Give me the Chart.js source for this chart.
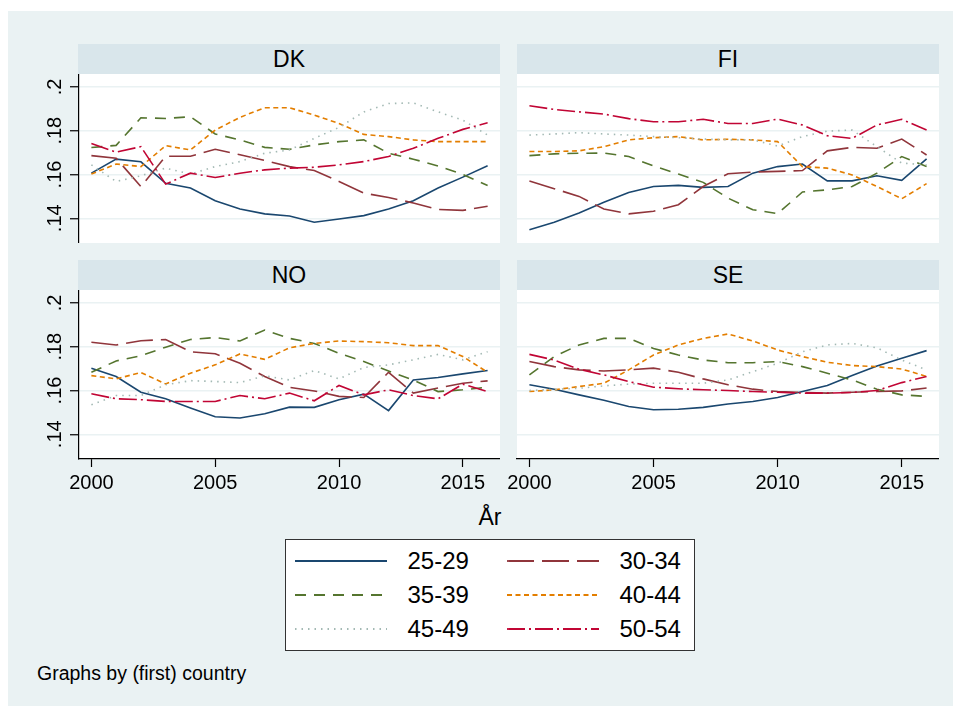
<!DOCTYPE html>
<html>
<head>
<meta charset="utf-8">
<title>Andel per åldersgrupp</title>
<script src="https://cdn.jsdelivr.net/npm/chart.js@4.4.1/dist/chart.umd.min.js"></script>
<style>
  body { margin: 0; background: #fff; font-family: "Liberation Sans", Arial, sans-serif; color: #000; }
  #frame { position: absolute; left: 8px; top: 11px; width: 945px; height: 695px; background: #eaf2f3; }
  .abs { position: absolute; }
  .strip { position: absolute; height: 30px; line-height: 30px; background: #d9e6eb; text-align: center; font-size: 23px; }
  #legend { position: absolute; left: 285px; top: 539px; width: 410px; height: 112px; background: #fff; border: 1.5px solid #333; box-sizing: border-box; }
  .ltext { position: absolute; font-size: 24px; height: 34px; line-height: 34px; white-space: nowrap; }
  canvas { position: absolute; }
</style>
</head>
<body>
<div id="frame"></div>

<div class="strip" style="left:78px; top:44px; width:422px;">DK</div>
<div class="strip" style="left:517px; top:44px; width:422px;">FI</div>
<div class="strip" style="left:78px; top:260px; width:422px;">NO</div>
<div class="strip" style="left:517px; top:260px; width:422px;">SE</div>

<canvas id="dk" width="470" height="169" style="left:30px; top:74px;"></canvas>
<canvas id="fi" width="439" height="169" style="left:500px; top:74px;"></canvas>
<canvas id="no" width="470" height="209" style="left:30px; top:290px;"></canvas>
<canvas id="se" width="439" height="209" style="left:500px; top:290px;"></canvas>

<div class="abs" style="left:440px; top:505px; width:100px; height:24px; line-height:24px; text-align:center; font-size:23px;">År</div>

<div id="legend"></div>

<div class="abs" style="left:37px; top:661px; height:24px; line-height:24px; font-size:19.5px; white-space:nowrap;">Graphs by (first) country</div>

<script>
// =========================
// DATA
// =========================
const years = [2000, 2001, 2002, 2003, 2004, 2005, 2006, 2007, 2008, 2009, 2010, 2011, 2012, 2013, 2014, 2015, 2016];
const groups = ["25-29", "30-34", "35-39", "40-44", "45-49", "50-54"];
const xTicks = [2000, 2005, 2010, 2015];
const yTicks = [0.14, 0.16, 0.18, 0.2];

// DK
const dk25 = [.1606, .1670, .1658, .1560, .1538, .1480, .1442, .1420, .1410, .1382, .1397, .1412, .1442, .1480, .1538, .1588, .1640];
const dk30 = [.1686, .1674, .1545, .1683, .1683, .1715, .1690, .1664, .1636, .1618, .1568, .1515, .1495, .1470, .1440, .1436, .1455];
const dk35 = [.1723, .1733, .1859, .1856, .1864, .1785, .1758, .1724, .1715, .1735, .1750, .1758, .1697, .1670, .1639, .1600, .1550];
const dk40 = [.1602, .1648, .1636, .1732, .1712, .1803, .1861, .1905, .1905, .1871, .1833, .1783, .1773, .1758, .1750, .1750, .1750];
const dk45 = [.1644, .1568, .1594, .1629, .1602, .1636, .1659, .1697, .1712, .1765, .1815, .1886, .1924, .1927, .1886, .1848, .1780];
const dk50 = [.1742, .1702, .1727, .1556, .1606, .1586, .1606, .1621, .1629, .1633, .1644, .1659, .1682, .1720, .1765, .1806, .1836];

// FI
const fi25 = [.1348, .1382, .1424, .1473, .1518, .1545, .1550, .1541, .1545, .1606, .1636, .1648, .1571, .1571, .1594, .1573, .1671];
const fi30 = [.1570, .1535, .1500, .1442, .1420, .1432, .1462, .1545, .1603, .1611, .1614, .1618, .1708, .1724, .1720, .1762, .1689];
const fi35 = [.1686, .1694, .1697, .1698, .1682, .1639, .1602, .1564, .1492, .1439, .1421, .1520, .1530, .1545, .1606, .1682, .1636];
const fi40 = [.1705, .1705, .1708, .1727, .1758, .1768, .1773, .1758, .1761, .1758, .1750, .1636, .1629, .1598, .1545, .1489, .1558];
const fi45 = [.1780, .1785, .1791, .1785, .1780, .1773, .1768, .1762, .1758, .1758, .1730, .1773, .1798, .1803, .1727, .1652, .1644];
const fi50 = [.1914, .1897, .1886, .1876, .1855, .1841, .1841, .1852, .1833, .1833, .1853, .1826, .1777, .1765, .1826, .1852, .1803];

// NO
const no25 = [.1702, .1664, .1592, .1562, .1520, .1480, .1474, .1494, .1524, .1523, .1558, .1583, .1508, .1648, .1659, .1676, .1691];
const no30 = [.1820, .1808, .1827, .1833, .1777, .1768, .1724, .1664, .1614, .1598, .1573, .1568, .1683, .1588, .1611, .1633, .1644];
const no35 = [.1683, .1735, .1759, .1798, .1833, .1842, .1826, .1876, .1838, .1815, .1770, .1732, .1689, .1648, .1595, .1603, .1615];
const no40 = [.1668, .1653, .1682, .1630, .1679, .1717, .1767, .1742, .1795, .1815, .1826, .1823, .1818, .1805, .1805, .1755, .1683];
const no45 = [.1535, .1577, .1577, .1626, .1645, .1641, .1636, .1667, .1648, .1691, .1653, .1705, .1717, .1740, .1765, .1740, .1777];
const no50 = [.1585, .1562, .1558, .1550, .1550, .1550, .1577, .1562, .1588, .1553, .1623, .1580, .1603, .1577, .1562, .1629, .1595];

// SE
const se25 = [.1626, .1606, .1580, .1555, .1527, .1512, .1514, .1523, .1538, .1550, .1568, .1595, .1623, .1668, .1712, .1747, .1782];
const se30 = [.1732, .1709, .1694, .1689, .1694, .1702, .1683, .1653, .1626, .1606, .1595, .1591, .1588, .1592, .1595, .1598, .1611];
const se35 = [.1671, .1755, .1808, .1838, .1838, .1792, .1762, .1739, .1727, .1727, .1732, .1709, .1679, .1648, .1606, .1580, .1573];
const se40 = [.1595, .1603, .1618, .1633, .1694, .1762, .1808, .1838, .1858, .1826, .1785, .1755, .1729, .1714, .1709, .1698, .1664];
const se45 = [.1600, .1605, .1610, .1621, .1629, .1633, .1633, .1633, .1648, .1686, .1724, .1777, .1808, .1815, .1795, .1739, .1694];
const se50 = [.1765, .1739, .1697, .1671, .1641, .1615, .1608, .1603, .1600, .1595, .1592, .1588, .1588, .1591, .1600, .1636, .1664];


// =========================
// STYLE (stata s2color look)
// =========================
const colors = ["#1a476f", "#90353b", "#55752f", "#e37e00", "#a3b9b4", "#c10534"];
const dashes = [[], [27, 8], [11, 8], [5, 3.5], [1.5, 5], [18, 4, 2, 4]];
const FONT = '"Liberation Sans", Arial, sans-serif';
Chart.defaults.font.family = FONT;

// white plot region behind the lines
const whiteArea = {
  id: "whiteArea",
  beforeDraw(chart) {
    const a = chart.chartArea;
    const c = chart.ctx;
    c.save();
    c.fillStyle = "#fff";
    c.fillRect(a.left, a.top, a.right - a.left, a.bottom - a.top);
    c.restore();
  }
};


// =========================
// BUILD ONE PANEL
// =========================
function makePanel(id, series, showY, showX) {
  const ctx = document.getElementById(id);

  const datasets = series.map((vals, i) => ({
    label: groups[i],
    data: years.map((yr, j) => ({ x: yr, y: vals[j] })),
    borderColor: colors[i],
    borderDash: dashes[i],
    borderWidth: 1.6,
    borderCapStyle: "butt",
    pointRadius: 0,
    tension: 0,
    fill: false,
    order: groups.length - i
  }));

  return new Chart(ctx, {
    type: "line",
    data: { datasets },
    options: {
      responsive: false,
      animation: false,
      events: [],
      layout: { padding: 0 },
      plugins: { legend: { display: false }, tooltip: { enabled: false } },
      scales: {
        x: {
          type: "linear",
          min: 1999.5,
          max: 2016.5,
          bounds: "data",
          display: showX,
          afterBuildTicks: s => { s.ticks = xTicks.map(v => ({ value: v })); },
          afterFit: s => {
            s.height = showX ? 40 : 0;
            s.paddingLeft = 0;
            s.paddingRight = 0;
          },
          grid: { drawOnChartArea: false, drawTicks: true, tickLength: 8, tickColor: "#000", tickWidth: 1.2 },
          border: { display: true, color: "#000", width: 1.2 },
          ticks: {
            color: "#000",
            font: { size: 20 },
            padding: 4,
            autoSkip: false,
            maxRotation: 0,
            callback: v => String(v)
          }
        },
        y: {
          type: "linear",
          min: 0.1287,
          max: 0.2059,
          bounds: "data",
          afterBuildTicks: s => { s.ticks = yTicks.map(v => ({ value: v })); },
          afterFit: s => { s.width = showY ? 49 : 17; s.paddingTop = 0; s.paddingBottom = 0; },
          grid: {
            color: "#eaf2f3",
            lineWidth: 1.5,
            drawTicks: showY,
            tickLength: 9,
            tickColor: "#000",
            tickWidth: 1.2
          },
          border: { display: showY, color: "#000", width: 1.2 },
          ticks: {
            display: showY,
            color: "#000",
            font: { size: 20 },
            padding: 1,
            crossAlign: "center",
            minRotation: 90,
            maxRotation: 90,
            autoSkip: false,
            callback: v => String(v).replace(/^0\./, ".")
          }
        }
      }
    },
    plugins: [whiteArea]
  });
}


// =========================
// LEGEND BOX
// =========================
function buildLegend() {
  const box = document.getElementById("legend");
  const boxLeft = 285, boxTop = 539;
  const lineX = [295, 507];
  const textX = [408, 620];
  const rowY = [561, 595, 629];

  groups.forEach((g, i) => {
    const col = i % 2;
    const row = Math.floor(i / 2);

    const svg = document.createElementNS("http://www.w3.org/2000/svg", "svg");
    svg.setAttribute("width", "92");
    svg.setAttribute("height", "6");
    svg.style.position = "absolute";
    svg.style.left = (lineX[col] - boxLeft - 1.5) + "px";
    svg.style.top = (rowY[row] - boxTop - 1.5 - 3) + "px";

    const ln = document.createElementNS("http://www.w3.org/2000/svg", "line");
    ln.setAttribute("x1", "0");
    ln.setAttribute("x2", "92");
    ln.setAttribute("y1", "3");
    ln.setAttribute("y2", "3");
    ln.setAttribute("stroke", colors[i]);
    ln.setAttribute("stroke-width", "1.8");
    if (dashes[i].length) ln.setAttribute("stroke-dasharray", dashes[i].join(" "));
    svg.appendChild(ln);
    box.appendChild(svg);

    const t = document.createElement("div");
    t.className = "ltext";
    t.textContent = g;
    t.style.left = (textX[col] - boxLeft - 1.5) + "px";
    t.style.top = (rowY[row] - boxTop - 1.5 - 17) + "px";
    box.appendChild(t);
  });
}


// =========================
// DRAW EVERYTHING
// =========================
window.onload = () => {
  makePanel("dk", [dk25, dk30, dk35, dk40, dk45, dk50], true, false);
  makePanel("fi", [fi25, fi30, fi35, fi40, fi45, fi50], false, false);
  makePanel("no", [no25, no30, no35, no40, no45, no50], true, true);
  makePanel("se", [se25, se30, se35, se40, se45, se50], false, true);
  buildLegend();
};
</script>
</body>
</html>
